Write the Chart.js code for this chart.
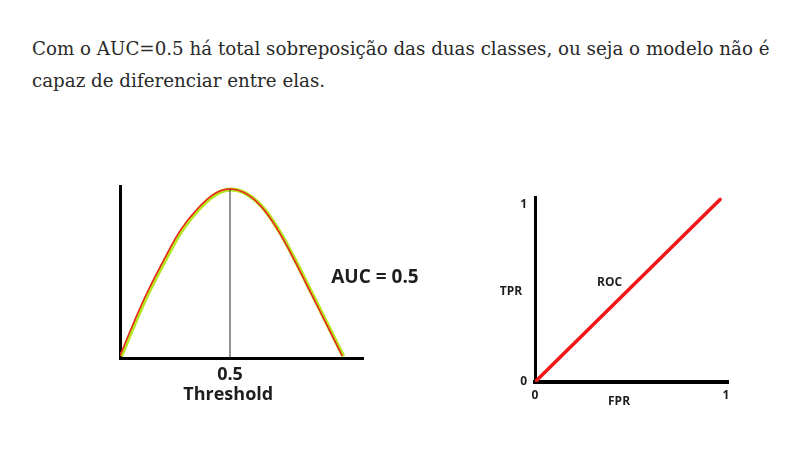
<!DOCTYPE html>
<html><head><meta charset="utf-8">
<script src="https://cdn.jsdelivr.net/npm/chart.js@4.4.1/dist/chart.umd.min.js"></script>
<style>
html,body{margin:0;padding:0;background:#fff;width:799px;height:458px;overflow:hidden;}
.line{position:absolute;left:32px;white-space:nowrap;font-family:"DejaVu Serif",serif;font-size:18px;line-height:24px;color:#292929;}
.mark{display:inline-block;width:0;height:0;vertical-align:baseline;}
canvas{position:absolute;left:0;top:0;}
</style></head><body>
<div id="l1" class="line" style="top:30px"><span class="mark"></span>Com o AUC=0.5 há total sobreposição das duas classes, ou seja o modelo não é</div>
<div id="l2" class="line" style="top:62px"><span class="mark"></span>capaz de diferenciar entre elas.</div>
<canvas id="c1" width="799" height="458"></canvas>
<canvas id="c2" width="799" height="458"></canvas>
<script>
// ---- data: left chart (class distributions vs threshold) ----
const classPosX = [0.005,0.068,0.129,0.205,0.280,0.356,0.432,0.500,0.568,0.644,0.720,0.795,0.871,0.947,1.015];
const classPosY = [0.010,0.208,0.386,0.580,0.755,0.880,0.969,1.000,0.979,0.900,0.761,0.583,0.386,0.188,0.010];
const classNegX = [0.000,0.063,0.124,0.200,0.275,0.351,0.427,0.496,0.563,0.639,0.715,0.790,0.866,0.942,1.010];
const classNegY = [0.012,0.212,0.390,0.584,0.759,0.884,0.973,1.003,0.983,0.904,0.765,0.587,0.390,0.192,0.012];
const thresholdX = [0.5, 0.5];
const thresholdY = [0, 1];
const thresholdTicks = [0.5];
// ---- data: right chart (ROC) ----
const rocFPR = [0, 0.969];
const rocTPR = [0, 1.031];
const rocTicks = [0, 1];

const pts = (xs, ys) => xs.map((x, i) => ({x, y: ys[i]}));
const TXT = '#1e1e1e';

const textLabels = {
  id: 'textLabels',
  afterDraw(chart, args, opts) {
    const {ctx} = chart;
    const xs = chart.scales.x, ys = chart.scales.y;
    ctx.save();
    ctx.fillStyle = opts.color;
    ctx.textAlign = 'center';
    ctx.textBaseline = 'middle';
    (opts.items || []).forEach(it => {
      ctx.font = 'bold ' + it.size + 'px "Open Sans"';
      ctx.fillText(it.text, xs.getPixelForValue(it.x), ys.getPixelForValue(it.y));
    });
    ctx.restore();
  }
};

const tickFont = (s) => ({family: 'Open Sans', weight: 'bold', size: s, lineHeight: 1.2});

new Chart(document.getElementById('c1'), {
  type: 'line',
  data: {datasets: [
    {data: pts(thresholdX, thresholdY), borderColor: '#262626', borderWidth: 1, pointRadius: 0, tension: 0},
    {data: pts(classNegX, classNegY), borderColor: '#ed1c24', borderWidth: 1.5, pointRadius: 0, tension: 0.4},
    {data: pts(classPosX, classPosY), borderColor: '#b5e61d', borderWidth: 4, pointRadius: 0, tension: 0.4}
  ]},
  options: {
    responsive: false, animation: false, events: [],
    layout: {padding: {left: 120, top: 186, right: 436, bottom: 60}},
    plugins: {
      legend: {display: false}, tooltip: {enabled: false},
      textLabels: {color: TXT, items: [
        {text: 'AUC = 0.5', x: 1.159, y: 0.475, size: 19},
        {text: 'Threshold', x: 0.492, y: -0.219, size: 18}
      ]}
    },
    scales: {
      x: {type: 'linear', min: 0, max: 1.1045,
        grid: {display: false, drawTicks: false},
        border: {display: true, width: 3, color: '#000'},
        afterBuildTicks: s => { s.ticks = thresholdTicks.map(v => ({value: v})); },
        afterFit: s => { s.height = 40; },
        ticks: {autoSkip: false, maxRotation: 0, padding: 6, color: TXT, font: tickFont(18)}
      },
      y: {type: 'linear', min: 0, max: 1.021,
        grid: {display: false, drawTicks: false},
        border: {display: true, width: 3, color: '#000'},
        ticks: {display: false},
        afterFit: s => { s.width = 0; }
      }
    }
  },
  plugins: [textLabels]
});

new Chart(document.getElementById('c2'), {
  type: 'line',
  data: {datasets: [
    {data: pts(rocFPR, rocTPR), borderColor: '#f01818', borderWidth: 3.5, borderCapStyle: 'round', pointRadius: 0, tension: 0}
  ]},
  options: {
    responsive: false, animation: false, events: [],
    layout: {padding: {left: 505, top: 197, right: 71, bottom: 46}},
    plugins: {
      legend: {display: false}, tooltip: {enabled: false},
      textLabels: {color: TXT, items: [
        {text: 'TPR', x: -0.126, y: 0.508, size: 12},
        {text: 'ROC', x: 0.391, y: 0.564, size: 12},
        {text: 'FPR', x: 0.440, y: -0.110, size: 12}
      ]}
    },
    scales: {
      x: {type: 'linear', min: 0, max: 1.0105,
        grid: {display: false, drawTicks: false},
        border: {display: true, width: 4, color: '#000'},
        afterBuildTicks: s => { s.ticks = rocTicks.map(v => ({value: v})); },
        afterFit: s => { s.height = 30; },
        ticks: {autoSkip: false, maxRotation: 0, padding: 6, color: TXT, font: tickFont(12)}
      },
      y: {type: 'linear', min: 0, max: 1.045,
        grid: {display: false, drawTicks: false},
        border: {display: true, width: 3, color: '#000'},
        afterBuildTicks: s => { s.ticks = rocTicks.map(v => ({value: v})); },
        afterFit: s => { s.width = 30; },
        ticks: {autoSkip: false, padding: 8, color: TXT, font: tickFont(12)}
      }
    }
  },
  plugins: [textLabels]
});

// fit paragraph width and baselines to the reference
(function () {
  const l1 = document.getElementById('l1'), l2 = document.getElementById('l2');
  const w = l1.getBoundingClientRect().width;
  const fs = Math.max(15, Math.min(21, 18 * 738 / w));
  [l1, l2].forEach(el => el.style.fontSize = fs + 'px');
  [[l1, 55], [l2, 87]].forEach(([el, base]) => {
    const m = el.querySelector('.mark').getBoundingClientRect().top;
    const top = parseFloat(el.style.top);
    el.style.top = (top + base - m) + 'px';
  });
})();
</script>
</body></html>
